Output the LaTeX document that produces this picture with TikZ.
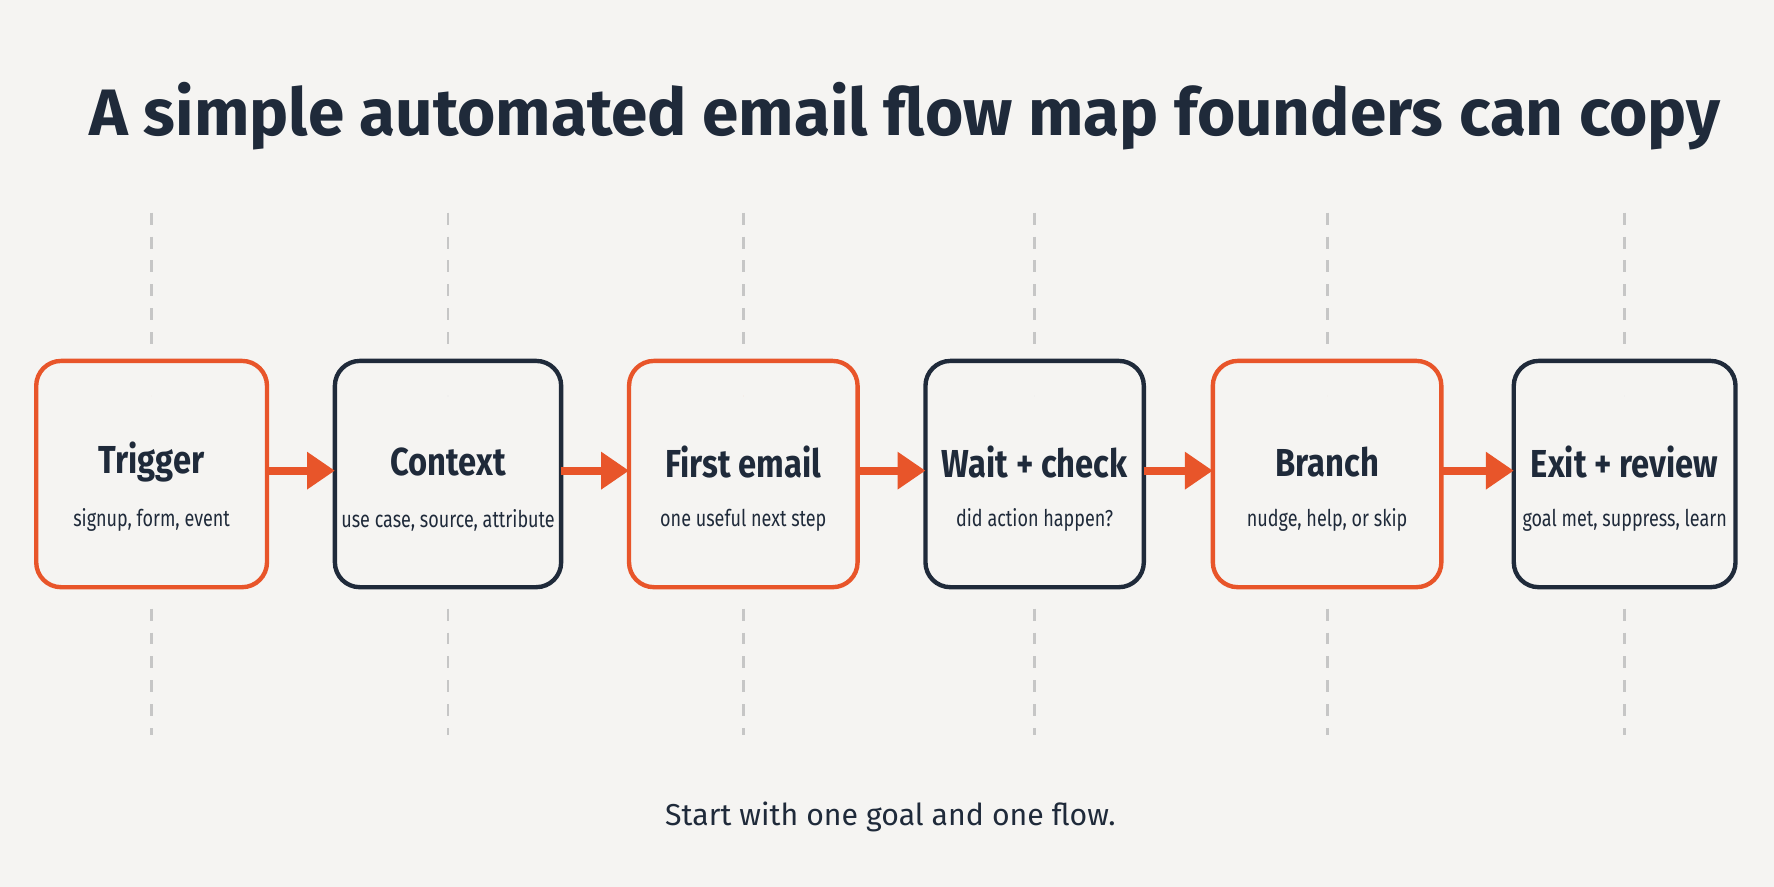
\documentclass[tikz,border=0pt]{standalone}
\usepackage{fontspec}
\setmainfont{Fira Sans}
\newfontfamily\narrowfont[FakeStretch=0.84]{Fira Sans}
\newfontfamily\tightfont[FakeStretch=0.78]{Fira Sans}
\usetikzlibrary{arrows.meta}
\definecolor{accent}{HTML}{E8552A}
\definecolor{ink}{HTML}{1F2A3A}
\definecolor{paper}{HTML}{F5F4F2}
\begin{document}
\begin{tikzpicture}[x=0.01cm, y=-0.01cm,
  stage/.style={draw, line width=1.1pt, rounded corners=0.22cm, fill=paper},
  guide/.style={draw=gray!45, dashed, line width=0.7pt},
  flow/.style={accent, line width=2pt, -{Triangle[length=7pt, width=9pt]}},
  head/.style={font=\narrowfont\fontsize{9.8}{11}\selectfont\bfseries, text=ink},
  sub/.style={font=\tightfont\fontsize{5.8}{7}\selectfont, text=ink}]
\fill[paper] (0,0) rectangle (1568,784);
\node[text=ink, font=\fontsize{16.5}{20}\selectfont\bfseries] (title) at (800,103) {A simple automated email flow map founders can copy};
\foreach \name/\xa/\xb/\col/\hd/\sb in {
  trig/32/236/accent/Trigger/{signup, form, event},
  ctx/296/496/ink/Context/{use case, source, attribute},
  first/556/758/accent/First email/{one useful next step},
  wait/818/1011/ink/Wait + check/{did action happen?},
  branch/1072/1274/accent/Branch/{nudge, help, or skip},
  exit/1338/1534/ink/Exit + review/{goal met, suppress, learn}}{
  \pgfmathsetmacro{\xm}{(\xa+\xb)/2}
  \draw[guide] (\xm,188) -- (\xm,310);
  \draw[guide] (\xm,538) -- (\xm,650);
  \draw[stage, draw=\col] (\xa,319) rectangle (\xb,519);
  \coordinate (\name-w) at (\xa,416);
  \coordinate (\name-e) at (\xb,416);
  \fill[\col] (\xm,350) circle (0.075);
  \node[head] (\name-hd) at (\xm,408) {\hd};
  \node[sub] (\name-sb) at (\xm,460) {\sb};
}
\draw[flow] (trig-e) -- (ctx-w);
\draw[flow] (ctx-e) -- (first-w);
\draw[flow] (first-e) -- (wait-w);
\draw[flow] (wait-e) -- (branch-w);
\draw[flow] (branch-e) -- (exit-w);
\node[text=ink, font=\fontsize{7.6}{10}\selectfont] (note) at (787,722) {Start with one goal and one flow.};
\end{tikzpicture}
\end{document}
